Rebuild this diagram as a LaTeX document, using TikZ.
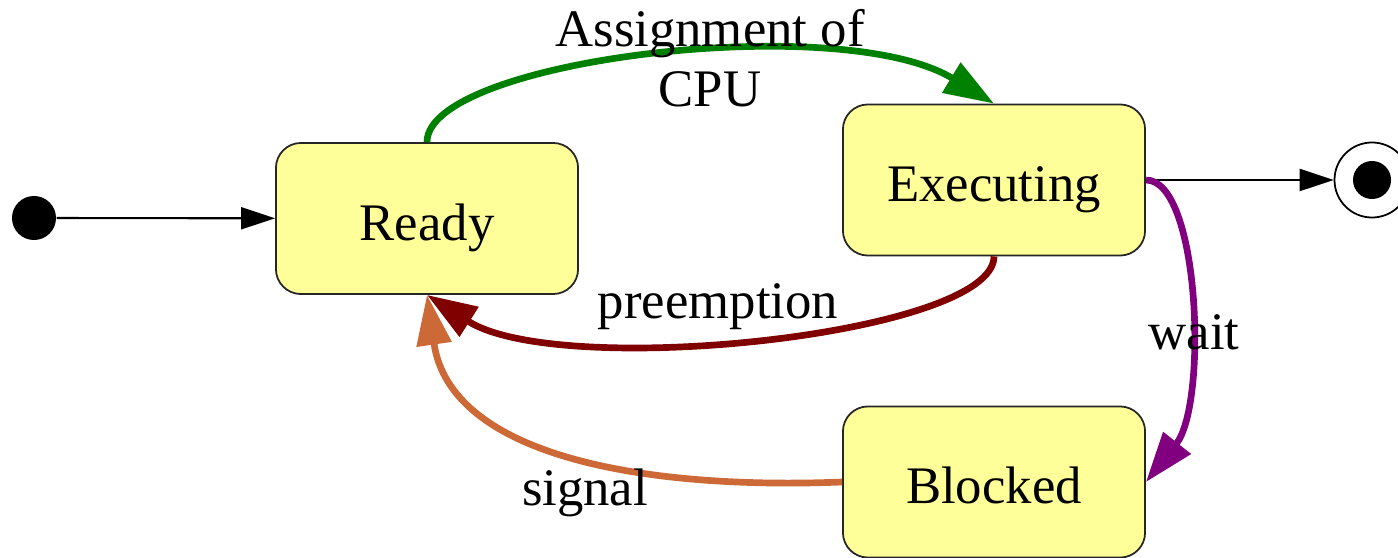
\documentclass[tikz,border=0pt]{standalone}
\usepackage{fontspec}
\setmainfont{Liberation Serif}
\usetikzlibrary{arrows.meta}

\definecolor{stateyellow}{RGB}{255,255,153}
\definecolor{cpugreen}{RGB}{0,128,0}
\definecolor{preemptred}{RGB}{128,0,0}
\definecolor{waitpurple}{RGB}{128,0,128}
\definecolor{signalorange}{RGB}{205,104,55}
\newcommand\statefont{\fontsize{15}{17}\selectfont}

\begin{document}
\begin{tikzpicture}[x=0.01cm, y=-0.01cm,
    state/.style={rectangle, rounded corners=0.25cm, draw=black!85, line width=0.5pt,
                  fill=stateyellow, minimum width=3.02cm, minimum height=1.51cm,
                  text height=12.4pt, text depth=0pt, font=\statefont},
    dot/.style={circle, fill=black, inner sep=0pt},
    thin arrow/.style={-{Triangle[length=0.34cm, width=0.22cm]}, line width=0.6pt},
    flow/.style={-{Triangle[length=0.5cm, width=0.34cm]}, line width=1.9pt},
    label/.style={font=\statefont, align=center}
]
    \useasboundingbox (0,0) rectangle (1398,558);

    % States
    \node[state] (ready) at (427,218.5) {Ready};
    \node[state] (exec) at (994,180) {Executing};
    \node[state] (blocked) at (994,482) {Blocked};

    % Initial and final pseudo states
    \node[dot, minimum size=0.44cm] (start) at (34,218) {};
    \node[circle, draw=black, line width=0.5pt, minimum size=0.75cm, inner sep=0pt] (final) at (1372,180) {};
    \node[dot, minimum size=0.38cm] (finaldot) at (1372,180) {};

    % Plain transitions
    \draw[thin arrow] (start) -- (ready);
    \draw[thin arrow] (exec) -- (final);

    % Coloured transitions
    \draw[flow, cpugreen] (ready.north) .. controls (427,60) and (840,10) .. (exec.north);
    \draw[flow, preemptred] (exec.south) .. controls (994,335) and (560,380) .. (ready.south);
    \draw[flow, waitpurple] (exec.east) .. controls (1200,180) and (1208,404) .. (blocked.east);
    \draw[flow, signalorange] (blocked.west) .. controls (640,490) and (450,455) .. (ready.south);

    % Labels
    \node[label] (cpulbl) at (710,58) {Assignment of\\CPU};
    \node[label, anchor=base] (preemptlbl) at (718,318) {preemption};
    \node[label, anchor=base] (waitlbl) at (1194,350) {wait};
    \node[label, anchor=base] (signallbl) at (585,505) {signal};

\end{tikzpicture}
\end{document}
